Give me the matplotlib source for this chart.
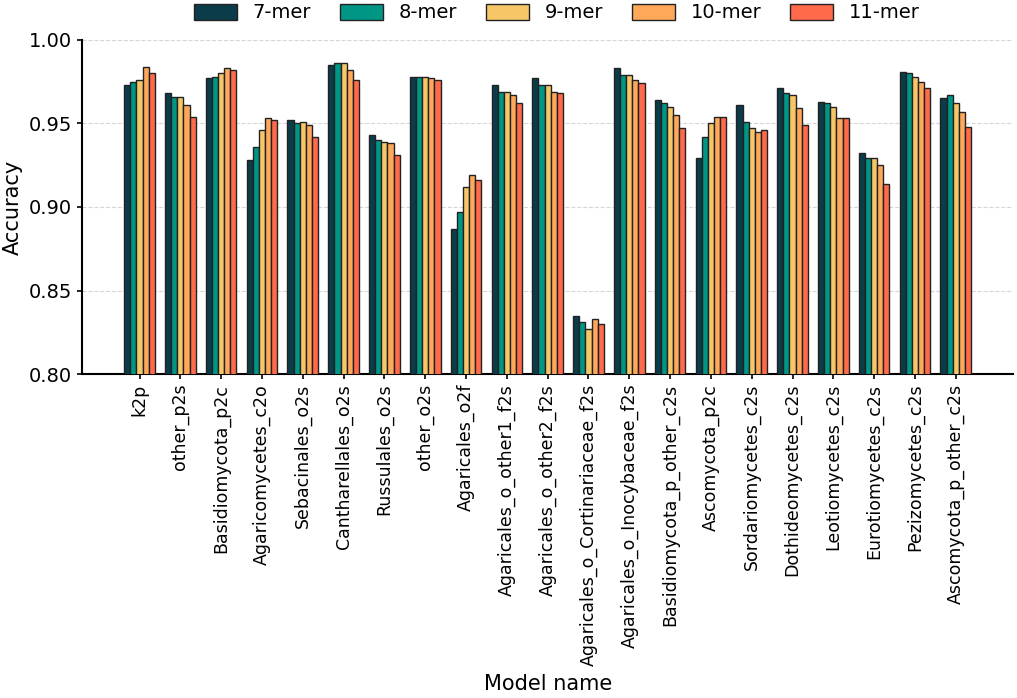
import numpy as np
import matplotlib
matplotlib.use("Agg")
import matplotlib.pyplot as plt

# Model names (x categories)
models = [
    "k2p", "other_p2s", "Basidiomycota_p2c", "Agaricomycetes_c2o",
    "Sebacinales_o2s", "Cantharellales_o2s", "Russulales_o2s", "other_o2s",
    "Agaricales_o2f", "Agaricales_o_other1_f2s", "Agaricales_o_other2_f2s",
    "Agaricales_o_Cortinariaceae_f2s", "Agaricales_o_Inocybaceae_f2s",
    "Basidiomycota_p_other_c2s", "Ascomycota_p2c", "Sordariomycetes_c2s",
    "Dothideomycetes_c2s", "Leotiomycetes_c2s", "Eurotiomycetes_c2s",
    "Pezizomycetes_c2s", "Ascomycota_p_other_c2s",
]

kmer_labels = ["7-mer", "8-mer", "9-mer", "10-mer", "11-mer"]

acc_7mer = [0.973, 0.968, 0.977, 0.928, 0.952, 0.985, 0.943, 0.978, 0.887, 0.973, 0.977,
            0.835, 0.983, 0.964, 0.929, 0.961, 0.971, 0.963, 0.932, 0.981, 0.965]
acc_8mer = [0.975, 0.966, 0.978, 0.936, 0.950, 0.986, 0.940, 0.978, 0.897, 0.969, 0.973,
            0.831, 0.979, 0.962, 0.942, 0.951, 0.968, 0.962, 0.929, 0.980, 0.967]
acc_9mer = [0.976, 0.966, 0.980, 0.946, 0.951, 0.986, 0.939, 0.978, 0.912, 0.969, 0.973,
            0.827, 0.979, 0.960, 0.950, 0.947, 0.967, 0.960, 0.929, 0.978, 0.962]
acc_10mer = [0.984, 0.961, 0.983, 0.953, 0.949, 0.982, 0.938, 0.977, 0.919, 0.967, 0.969,
             0.833, 0.976, 0.955, 0.954, 0.945, 0.959, 0.953, 0.925, 0.975, 0.957]
acc_11mer = [0.980, 0.954, 0.982, 0.952, 0.942, 0.976, 0.931, 0.976, 0.916, 0.962, 0.968,
             0.830, 0.974, 0.947, 0.954, 0.946, 0.949, 0.953, 0.914, 0.971, 0.948]

colors = ["#0b3c49", "#009686", "#f7c767", "#ffa85a", "#ff6a4b"]

plt.rcParams.update({
    "font.family": "DejaVu Sans",
})

fig = plt.figure(figsize=(10.17, 6.98), dpi=100)
ax = fig.add_axes([0.0805, 0.464, 0.916, 0.479])

x = np.arange(len(models))
width = 0.15
series = [acc_7mer, acc_8mer, acc_9mer, acc_10mer, acc_11mer]
for i, (vals, lab, col) in enumerate(zip(series, kmer_labels, colors)):
    ax.bar(x + (i - 2) * width, vals, width, label=lab, color=col,
           edgecolor="#222222", linewidth=1.0, zorder=3)

ax.set_ylim(0.80, 1.00)
ax.set_yticks([0.80, 0.85, 0.90, 0.95, 1.00])
ax.set_yticklabels(["0.80", "0.85", "0.90", "0.95", "1.00"], fontsize=14)
ax.set_xticks(x)
ax.set_xticklabels(models, rotation=90, fontsize=12.5)
ax.set_ylabel("Accuracy", fontsize=15)
ax.set_xlabel("Model name", fontsize=15, labelpad=6)

ax.grid(axis="y", linestyle="--", color="#cccccc", linewidth=0.8, alpha=0.8, zorder=0)
ax.spines["top"].set_visible(False)
ax.spines["right"].set_visible(False)
ax.spines["left"].set_linewidth(1.5)
ax.spines["bottom"].set_linewidth(1.5)
ax.tick_params(width=1.2)

ax.legend(loc="lower center", bbox_to_anchor=(0.51, 1.0), ncol=5, frameon=False,
          fontsize=14, handlelength=2.2, handleheight=0.9, columnspacing=1.5)

fig.savefig("out.png", dpi=100)
